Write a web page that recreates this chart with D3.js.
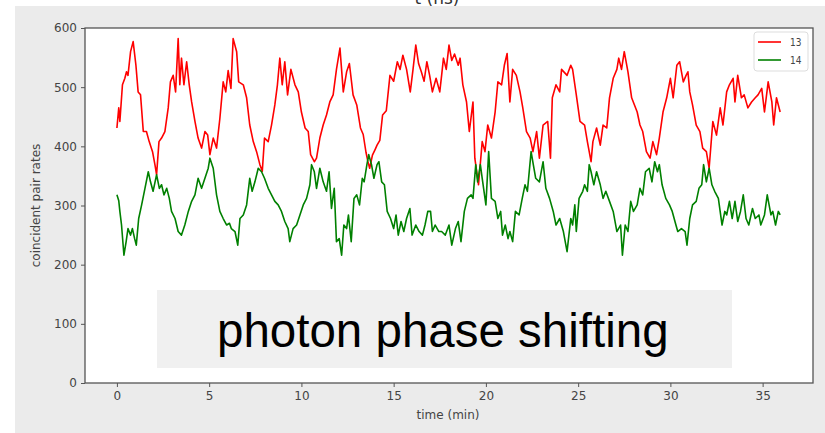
<!DOCTYPE html>
<html>
<head>
<meta charset="utf-8">
<script src="https://cdn.jsdelivr.net/npm/d3@7"></script>
<style>
  body { margin: 0; background: #fff; }
  svg { display: block; }
</style>
</head>
<body>
<div id="chart"></div>
<script>
// series "13" (red): time in min, coincident pair rate
const t13 = [0,0.1,0.16,0.3,0.43,0.52,0.6,0.74,0.88,1.03,1.15,1.28,1.43,1.6,1.75,1.93,2.06,2.15,2.28,2.42,2.6,2.78,2.9,3.05,3.18,3.32,3.41,3.5,3.63,3.78,3.92,4.05,4.23,4.4,4.59,4.77,4.92,5.04,5.22,5.4,5.58,5.76,5.9,6.03,6.18,6.3,6.49,6.6,6.85,7.03,7.2,7.39,7.57,7.75,7.88,8.0,8.2,8.38,8.56,8.7,8.83,8.96,9.1,9.25,9.43,9.65,9.83,10.0,10.2,10.37,10.5,10.7,10.82,11.0,11.18,11.36,11.54,11.72,11.9,12.09,12.27,12.45,12.6,12.8,13.0,13.2,13.35,13.5,13.6,13.7,13.85,14.0,14.1,14.25,14.4,14.6,14.8,15.0,15.2,15.35,15.5,15.7,15.9,16.05,16.2,16.35,16.5,16.65,16.8,16.95,17.1,17.3,17.5,17.6,17.7,17.85,18.0,18.15,18.3,18.5,18.6,18.75,18.95,19.1,19.3,19.4,19.6,19.8,19.95,20.1,20.3,20.5,20.65,20.85,21.0,21.15,21.3,21.45,21.65,21.85,22.0,22.2,22.4,22.55,22.75,22.9,23.1,23.35,23.5,23.6,23.8,24.0,24.1,24.4,24.6,24.7,24.9,25.1,25.35,25.5,25.7,25.8,26.0,26.2,26.35,26.55,26.7,26.9,27.1,27.2,27.35,27.5,27.7,27.9,28.2,28.35,28.5,28.7,28.9,29.05,29.25,29.4,29.6,29.8,30.0,30.15,30.35,30.5,30.7,30.85,30.95,31.05,31.2,31.4,31.6,31.75,31.95,32.1,32.3,32.5,32.7,32.85,33.05,33.2,33.4,33.5,33.65,33.85,34.0,34.2,34.4,34.6,34.75,34.95,35.1,35.3,35.5,35.6,35.75,35.95];
const r13 = [431,465,442,504,515,526,520,560,577,537,492,487,425,425,408,391,369,352,408,414,425,465,509,520,492,582,504,549,504,543,504,475,442,414,397,425,419,386,414,397,447,509,492,528,498,582,560,509,504,482,436,408,391,369,358,414,408,436,470,504,549,504,543,487,530,504,492,458,431,425,386,374,380,414,436,453,475,487,530,566,492,526,540,487,470,431,420,390,375,363,385,395,402,410,453,460,520,510,543,530,554,530,492,530,571,540,526,510,543,520,492,515,492,520,549,530,571,545,556,537,549,504,475,425,475,380,335,408,391,436,414,458,509,504,537,557,475,530,520,492,465,425,414,391,425,380,436,442,380,482,504,492,530,520,537,530,487,442,436,408,374,408,431,402,436,431,482,515,530,549,530,560,526,482,458,436,425,391,380,408,386,414,458,482,515,482,537,543,509,520,526,492,470,436,425,397,391,363,442,419,465,436,492,504,515,475,520,482,487,465,475,482,487,498,458,509,475,436,482,458];

// series "14" (green)
const t14 = [0,0.1,0.16,0.25,0.38,0.5,0.6,0.74,0.84,0.96,1.05,1.18,1.34,1.52,1.7,1.82,1.96,2.15,2.3,2.42,2.55,2.7,2.84,2.96,3.15,3.32,3.5,3.68,3.87,4.05,4.23,4.4,4.59,4.77,4.95,5.04,5.22,5.4,5.58,5.76,5.95,6.1,6.2,6.4,6.55,6.67,6.85,7.03,7.2,7.33,7.48,7.66,7.84,8.0,8.2,8.38,8.56,8.74,8.92,9.1,9.28,9.37,9.55,9.74,9.92,10.1,10.28,10.46,10.55,10.7,10.82,11.0,11.18,11.36,11.5,11.63,11.78,11.9,12.05,12.18,12.3,12.45,12.55,12.7,12.85,13.0,13.15,13.3,13.4,13.55,13.65,13.8,13.93,14.1,14.2,14.35,14.5,14.65,14.83,15.0,15.13,15.25,15.4,15.55,15.7,15.88,16.0,16.2,16.38,16.56,16.7,16.85,17.0,17.1,17.25,17.45,17.6,17.8,18.0,18.15,18.35,18.5,18.65,18.83,19.0,19.2,19.3,19.45,19.55,19.7,19.8,20.0,20.15,20.3,20.5,20.65,20.8,20.9,21.05,21.2,21.3,21.45,21.6,21.8,21.97,22.12,22.25,22.45,22.57,22.7,22.9,23.1,23.25,23.45,23.65,23.8,24.0,24.2,24.4,24.6,24.7,24.82,24.9,25.05,25.25,25.35,25.5,25.6,25.7,25.85,26.0,26.2,26.35,26.5,26.7,26.9,27.1,27.3,27.4,27.55,27.7,27.85,28.0,28.2,28.35,28.5,28.65,28.85,29.0,29.15,29.3,29.4,29.55,29.75,29.95,30.1,30.3,30.4,30.6,30.8,30.9,31.05,31.2,31.4,31.55,31.7,31.8,31.95,32.1,32.25,32.4,32.6,32.8,32.95,33.05,33.2,33.35,33.5,33.65,33.8,33.95,34.1,34.25,34.45,34.6,34.8,34.9,35.1,35.25,35.45,35.55,35.7,35.85,35.95];
const r14 = [318,308,290,267,216,239,261,250,261,244,233,278,301,329,357,340,324,352,329,335,318,329,312,290,278,256,250,267,290,307,318,346,329,346,363,380,363,318,290,278,267,270,261,256,233,278,284,301,346,324,340,363,357,346,329,318,307,301,290,273,261,239,261,267,284,301,312,335,369,357,329,363,340,324,357,295,329,239,244,216,267,261,284,239,312,318,301,346,340,369,386,369,346,369,374,340,335,290,278,261,284,250,273,256,278,295,250,267,256,250,267,290,290,256,267,256,256,250,267,233,261,273,239,290,312,318,312,369,340,369,346,301,391,312,307,278,290,250,267,244,256,239,290,284,312,335,324,391,369,346,340,374,329,312,290,267,278,256,222,278,267,301,256,312,324,335,324,369,357,335,357,335,312,324,307,290,256,267,216,267,256,307,290,301,329,318,357,363,340,374,357,369,335,312,301,290,267,256,261,256,233,278,301,307,329,335,369,340,363,335,324,312,267,290,284,307,278,307,273,290,318,278,267,295,278,284,267,284,318,284,290,267,290,284];

const seriesNames = ["13", "14"];
const xTicks = [0, 5, 10, 15, 20, 25, 30, 35];
const yTicks = [0, 100, 200, 300, 400, 500, 600];

const W = 825, H = 433;
const margin = { left: 85, right: 12, top: 28, bottom: 50 };

const svg = d3.select("#chart").append("svg")
  .attr("width", W).attr("height", H);

// grey figure panel
svg.append("rect").attr("x", 15).attr("y", 6).attr("width", W - 15).attr("height", H - 6)
  .attr("fill", "#ebebeb");

// cut-off heading from the slide above
svg.append("text").attr("x", 437).attr("y", 4).attr("text-anchor", "middle")
  .attr("font-family", "DejaVu Sans, sans-serif").attr("font-size", 17).attr("fill", "#333")
  .text("t (ns)");

const x = d3.scaleLinear().domain([-1.73, 37.73]).range([margin.left, W - margin.right]);
const y = d3.scaleLinear().domain([0, 600]).range([H - margin.bottom, margin.top]);

svg.append("rect")
  .attr("x", margin.left).attr("y", margin.top)
  .attr("width", W - margin.right - margin.left).attr("height", H - margin.bottom - margin.top)
  .attr("fill", "#fff");

const line = d3.line().x(d => x(d[0])).y(d => y(d[1]));
const data13 = t13.map((t, i) => [t, r13[i]]);
const data14 = t14.map((t, i) => [t, r14[i]]);

svg.append("path").datum(data13).attr("d", line)
  .attr("fill", "none").attr("stroke", "#ff0000").attr("stroke-width", 1.6).attr("stroke-linejoin", "round");
svg.append("path").datum(data14).attr("d", line)
  .attr("fill", "none").attr("stroke", "#008000").attr("stroke-width", 1.6).attr("stroke-linejoin", "round");

// frame
svg.append("rect")
  .attr("x", margin.left).attr("y", margin.top)
  .attr("width", W - margin.right - margin.left).attr("height", H - margin.bottom - margin.top)
  .attr("fill", "none").attr("stroke", "#555").attr("stroke-width", 1.3);

const tickFont = g => g.selectAll("text")
  .attr("font-family", "DejaVu Sans, sans-serif").attr("font-size", 12).attr("fill", "#444");

const xAxis = svg.append("g").attr("transform", `translate(0,${H - margin.bottom})`)
  .call(d3.axisBottom(x).tickValues(xTicks).tickSize(4).tickPadding(4));
xAxis.select(".domain").remove();
xAxis.selectAll("line").attr("stroke", "#555");
tickFont(xAxis);

const yAxis = svg.append("g").attr("transform", `translate(${margin.left},0)`)
  .call(d3.axisLeft(y).tickValues(yTicks).tickSize(4).tickPadding(4));
yAxis.select(".domain").remove();
yAxis.selectAll("line").attr("stroke", "#555");
tickFont(yAxis);

svg.append("text").attr("x", 448).attr("y", 419).attr("text-anchor", "middle")
  .attr("font-family", "DejaVu Sans, sans-serif").attr("font-size", 12).attr("fill", "#444")
  .text("time (min)");
svg.append("text").attr("transform", `translate(40,${(margin.top + H - margin.bottom) / 2}) rotate(-90)`)
  .attr("text-anchor", "middle")
  .attr("font-family", "DejaVu Sans, sans-serif").attr("font-size", 12).attr("fill", "#444")
  .text("coincident pair rates");

// legend
const colors = ["#ff0000", "#008000"];
const lg = svg.append("g").attr("transform", "translate(754,32)");
lg.append("rect").attr("width", 54).attr("height", 39).attr("rx", 3)
  .attr("fill", "#fff").attr("stroke", "#ddd");
seriesNames.forEach((name, i) => {
  lg.append("line").attr("x1", 4).attr("x2", 27).attr("y1", 10 + i * 18).attr("y2", 10 + i * 18)
    .attr("stroke", colors[i]).attr("stroke-width", 1.6);
  lg.append("text").attr("x", 36).attr("y", 14 + i * 18)
    .attr("font-family", "DejaVu Sans Condensed, DejaVu Sans, sans-serif").attr("font-size", 10).attr("fill", "#444")
    .text(name);
});

// caption box over the plot
svg.append("rect").attr("x", 157).attr("y", 290).attr("width", 575).attr("height", 78)
  .attr("fill", "#f0f0f0");
svg.append("text").attr("x", 217).attr("y", 347)
  .attr("font-family", "Liberation Sans, Arial, sans-serif").attr("font-size", 47.5).attr("fill", "#000")
  .text("photon phase shifting");
</script>
</body>
</html>
